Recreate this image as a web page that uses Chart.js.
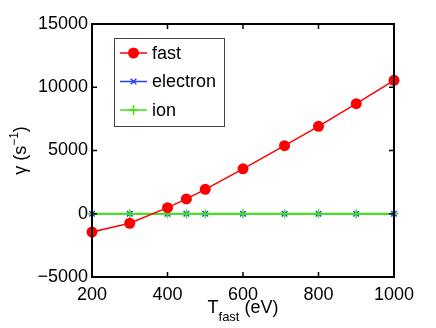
<!DOCTYPE html>
<html><head><meta charset="utf-8">
<script src="https://cdn.jsdelivr.net/npm/chart.js@4/dist/chart.umd.min.js"></script>
<style>html,body{margin:0;padding:0;background:#fff}#w{width:436px;height:328px}</style>
</head><body><div id="w"><canvas id="c" width="436" height="328"></canvas></div>
<script>
const T_fast = [200, 300, 400, 450, 500, 600, 710, 800, 900, 1000];
const gammaFast = [-1450, -750, 480, 1170, 1930, 3550, 5380, 6910, 8700, 10550];
const gammaElectron = [0, 0, 0, 0, 0, 0, 0, 0, 0, 0];
const gammaIon = [0, 0, 0, 0, 0, 0, 0, 0, 0, 0];
const xTicks = [200, 400, 600, 800, 1000];
const yTicks = [-5000, 0, 5000, 10000, 15000];
const seriesNames = ['fast', 'electron', 'ion'];

const FONT = 'Liberation Sans, Arial, Helvetica, sans-serif';
const toPts = (ys) => T_fast.map((x, i) => ({x: x, y: ys[i]}));

const styles = [
  {color: '#ff0000', pointStyle: 'circle', radius: 5.5, bw: 1.5},
  {color: '#2a3cff', pointStyle: 'crossRot', radius: 4, bw: 1.5},
  {color: '#3ee80e', pointStyle: 'cross', radius: 5, bw: 1.5}
];

const decor = {
  id: 'decor',
  afterDraw(chart) {
    const ctx = chart.ctx, a = chart.chartArea;
    const xs = chart.scales.x, ys = chart.scales.y;
    ctx.save();
    // frame
    ctx.strokeStyle = '#000';
    ctx.lineWidth = 2;
    ctx.strokeRect(a.left, a.top, a.right - a.left, a.bottom - a.top);
    // inward ticks
    const tl = 5;
    ctx.beginPath();
    xTicks.forEach(v => {
      const px = xs.getPixelForValue(v);
      ctx.moveTo(px, a.bottom); ctx.lineTo(px, a.bottom - tl);
      ctx.moveTo(px, a.top); ctx.lineTo(px, a.top + tl);
    });
    yTicks.forEach(v => {
      const py = ys.getPixelForValue(v);
      ctx.moveTo(a.left, py); ctx.lineTo(a.left + tl, py);
      ctx.moveTo(a.right, py); ctx.lineTo(a.right - tl, py);
    });
    ctx.lineWidth = 1.5;
    ctx.stroke();

    // legend
    const bx = 114, by = 38, bw = 110, bh = 88;
    ctx.fillStyle = '#fff';
    ctx.fillRect(bx, by, bw, bh);
    ctx.strokeStyle = '#444';
    ctx.lineWidth = 1;
    ctx.strokeRect(bx + 0.5, by + 0.5, bw, bh);
    const rowY = [53, 81.5, 110];
    chart.data.datasets.forEach((ds, i) => {
      const st = styles[i];
      const y = rowY[i];
      ctx.strokeStyle = st.color;
      ctx.fillStyle = st.color;
      ctx.lineWidth = st.bw;
      ctx.beginPath(); ctx.moveTo(120, y); ctx.lineTo(147, y); ctx.stroke();
      Chart.helpers.drawPoint(ctx, {pointStyle: st.pointStyle, radius: st.radius, borderWidth: i === 0 ? 0 : st.bw, rotation: 0}, 133.5, y);
      ctx.fillStyle = '#000';
      ctx.font = '18px ' + FONT;
      ctx.textBaseline = 'middle';
      ctx.textAlign = 'left';
      ctx.fillText(ds.label, 152, y + 1);
    });

    // x axis title: T_fast (eV)
    ctx.fillStyle = '#000';
    ctx.textBaseline = 'alphabetic';
    ctx.textAlign = 'left';
    const cx = (a.left + a.right) / 2;
    ctx.font = '18px ' + FONT;
    const wT = ctx.measureText('T').width;
    const wE = ctx.measureText(' (eV)').width;
    ctx.font = '13px ' + FONT;
    const wS = ctx.measureText('fast').width;
    let x0 = cx - (wT + wS + wE) / 2;
    const base = 313;
    ctx.font = '18px ' + FONT;
    ctx.fillText('T', x0, base);
    ctx.font = '13px ' + FONT;
    ctx.fillText('fast', x0 + wT, base + 8);
    ctx.font = '18px ' + FONT;
    ctx.fillText(' (eV)', x0 + wT + wS, base);

    // y axis title: γ (s^-1)
    ctx.save();
    ctx.translate(26, (a.top + a.bottom) / 2);
    ctx.rotate(-Math.PI / 2);
    ctx.font = '18px ' + FONT;
    const p1 = 'γ (s';
    const w1 = ctx.measureText(p1).width;
    ctx.font = '12px ' + FONT;
    const w2 = ctx.measureText('−1').width;
    ctx.font = '18px ' + FONT;
    const w3 = ctx.measureText(')').width;
    let yx = -(w1 + w2 + w3) / 2;
    ctx.fillText(p1, yx, 0);
    ctx.font = '12px ' + FONT;
    ctx.fillText('−1', yx + w1, -8);
    ctx.font = '18px ' + FONT;
    ctx.fillText(')', yx + w1 + w2, 0);
    ctx.restore();
    ctx.restore();
  }
};

new Chart(document.getElementById('c'), {
  type: 'line',
  data: {
    datasets: [
      {label: seriesNames[0], data: toPts(gammaFast), borderColor: styles[0].color, backgroundColor: styles[0].color,
       borderWidth: 1.5, pointStyle: 'circle', pointRadius: 5.5, pointBorderWidth: 0, pointBackgroundColor: styles[0].color, order: 1, clip: false},
      {label: seriesNames[1], data: toPts(gammaElectron), borderColor: styles[1].color, backgroundColor: styles[1].color,
       borderWidth: 1.5, pointStyle: 'crossRot', pointRadius: 4, pointBorderWidth: 1.5, order: 3, clip: false},
      {label: seriesNames[2], data: toPts(gammaIon), borderColor: styles[2].color, backgroundColor: styles[2].color,
       borderWidth: 2, pointStyle: 'cross', pointRadius: 4.5, pointBorderWidth: 1.5, order: 2, clip: false}
    ]
  },
  options: {
    responsive: false,
    animation: false,
    events: [],
    layout: {padding: {top: 24, right: 42, left: 0, bottom: 0}},
    plugins: {legend: {display: false}, tooltip: {enabled: false}},
    elements: {line: {tension: 0}},
    scales: {
      x: {
        type: 'linear', min: 200, max: 1000,
        afterBuildTicks: s => { s.ticks = xTicks.map(v => ({value: v})); },
        afterFit: s => { s.height = 51; },
        grid: {display: false, drawTicks: false},
        border: {display: false},
        ticks: {color: '#000', padding: 7, font: {size: 18, family: FONT}, maxRotation: 0, autoSkip: false,
                callback: v => String(v)}
      },
      y: {
        type: 'linear', min: -5000, max: 15000,
        afterBuildTicks: s => { s.ticks = yTicks.map(v => ({value: v})); },
        afterFit: s => { s.width = 92; },
        grid: {display: false, drawTicks: false},
        border: {display: false},
        ticks: {color: '#000', padding: 4, font: {size: 18, family: FONT}, autoSkip: false,
                callback: v => (v < 0 ? '−' + Math.abs(v) : String(v))}
      }
    }
  },
  plugins: [decor]
});
</script>
</body></html>
